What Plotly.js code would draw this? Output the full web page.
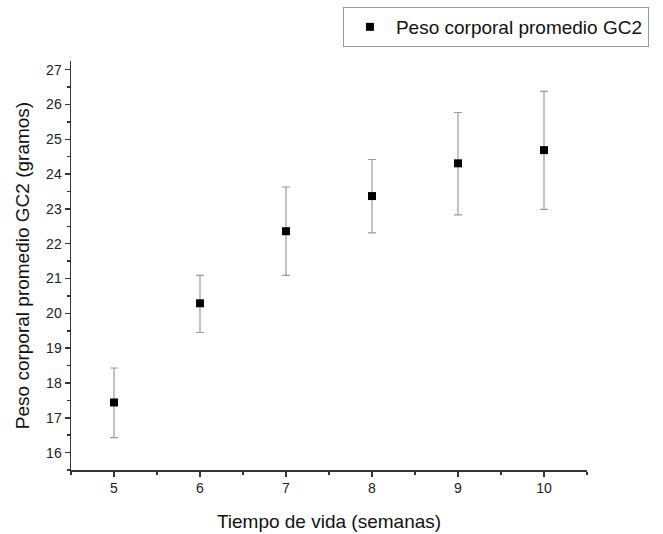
<!DOCTYPE html>
<html>
<head>
<meta charset="utf-8">
<script src="https://cdn.plot.ly/plotly-3.0.1.min.js"></script>
<style>html,body{margin:0;padding:0;background:#fff}#chart{width:663px;height:534px}</style>
</head>
<body>
<div id="chart"></div>
<script>
const weeks = [5, 6, 7, 8, 9, 10];
const meanWeight = [17.44, 20.29, 22.36, 23.37, 24.31, 24.69];
const errPlus = [0.99, 0.80, 1.27, 1.05, 1.46, 1.69];
const errMinus = [1.01, 0.84, 1.27, 1.06, 1.48, 1.70];
const seriesName = 'Peso corporal promedio GC2';
const xTickVals = [5, 6, 7, 8, 9, 10];
const yTickVals = [16, 17, 18, 19, 20, 21, 22, 23, 24, 25, 26, 27];

const font = 'Liberation Sans, Arial, sans-serif';
const trace = {
  x: weeks, y: meanWeight, type: 'scatter', mode: 'markers', name: seriesName,
  marker: {symbol: 'square', size: 8, color: '#000'},
  error_y: {type: 'data', symmetric: false, array: errPlus, arrayminus: errMinus,
            color: '#999', thickness: 1.2, width: 4}
};
const layout = {
  width: 663, height: 534,
  margin: {l: 71, r: 76, t: 61, b: 64, autoexpand: false},
  paper_bgcolor: '#fff', plot_bgcolor: '#fff',
  font: {family: font, color: '#222', size: 14},
  showlegend: true,
  legend: {x: 0.527, xanchor: 'left', y: 1.132, yanchor: 'top', itemwidth: 42,
           bordercolor: '#999', borderwidth: 1, font: {size: 19, family: font, color: '#111'},
           bgcolor: '#fff'},
  xaxis: {range: [4.5, 10.5], tickvals: xTickVals, ticks: 'outside', ticklen: 5, tickwidth: 1.5,
          tickcolor: '#333', showline: true, linecolor: '#333', linewidth: 1.5, showgrid: false,
          zeroline: false, mirror: false, tickfont: {size: 14, color: '#222', family: font},
          minor: {dtick: 0.5, tick0: 4.5, ticks: 'outside', ticklen: 3, tickcolor: '#333', tickwidth: 1.5, showgrid: false},
          title: {text: 'Tiempo de vida (semanas)', font: {size: 19, family: font, color: '#111'}, standoff: 19}},
  yaxis: {range: [15.5, 27.25], tickvals: yTickVals, ticks: 'outside', ticklen: 5, tickwidth: 1.5,
          tickcolor: '#333', showline: true, linecolor: '#333', linewidth: 1.5, showgrid: false,
          zeroline: false, mirror: false, tickfont: {size: 14, color: '#222', family: font},
          minor: {dtick: 0.5, tick0: 15.5, ticks: 'outside', ticklen: 3, tickcolor: '#333', tickwidth: 1.5, showgrid: false},
          title: {text: 'Peso corporal promedio GC2 (gramos)', font: {size: 19, family: font, color: '#111'}, standoff: 11}}
};
Plotly.newPlot('chart', [trace], layout, {displayModeBar: false, staticPlot: true});
</script>
</body>
</html>
